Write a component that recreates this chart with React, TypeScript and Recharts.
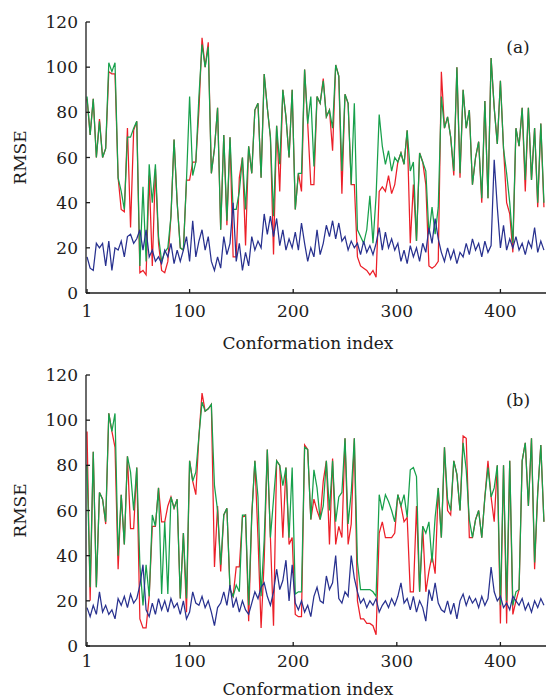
import { LineChart, Line, XAxis, YAxis, Label } from "recharts";

// conformations sampled every 3rd index
const STEP = 3;

// panel (a)
const topGreen = [
  87, 70, 86, 60, 76, 60, 64, 102, 98, 102,
  51, 45, 37, 69, 69, 73, 76, 12, 47, 14,
  57, 40, 57, 25, 14, 18, 20, 34, 68, 40,
  20, 19, 50, 87, 52, 58, 87, 110, 100, 109,
  53, 64, 82, 28, 70, 32, 69, 37, 37, 45,
  60, 37, 65, 53, 81, 84, 51, 97, 82, 69,
  34, 74, 57, 90, 78, 60, 90, 37, 53, 53,
  99, 75, 87, 56, 87, 84, 94, 78, 81, 73,
  101, 96, 54, 88, 84, 48, 84, 28, 25, 22,
  28, 43, 22, 43, 79, 65, 57, 63, 54, 60,
  58, 62, 57, 72, 54, 58, 23, 62, 58, 54,
  26, 38, 26, 38, 87, 73, 78, 69, 54, 100,
  53, 90, 73, 81, 48, 60, 67, 42, 85, 42,
  104, 82, 66, 94, 64, 53, 40, 22, 73, 65,
  82, 50, 82, 50, 73, 40, 75, 40,
];
const topRed = [
  86, 70, 86, 60, 77, 60, 64, 98, 97, 97,
  51, 37, 36, 73, 29, 72, 76, 9, 10, 8,
  52, 12, 55, 22, 10, 9, 14, 34, 68, 40,
  20, 19, 50, 50, 58, 58, 81, 113, 100, 111,
  53, 64, 82, 28, 70, 30, 69, 16, 16, 51,
  60, 21, 65, 53, 81, 84, 51, 97, 82, 69,
  17, 74, 45, 90, 78, 60, 90, 37, 53, 45,
  99, 75, 48, 48, 87, 84, 95, 78, 81, 63,
  101, 96, 44, 88, 84, 48, 48, 16, 12, 11,
  10, 8, 10, 7, 45, 47, 45, 52, 44, 48,
  58, 62, 57, 72, 22, 48, 23, 62, 58, 48,
  12, 11, 12, 14, 98, 73, 78, 69, 52, 100,
  51, 90, 73, 81, 48, 60, 67, 40, 85, 42,
  104, 82, 66, 94, 64, 40, 35, 18, 73, 65,
  82, 45, 82, 50, 73, 38, 75, 38,
];
const topBlue = [
  16, 11, 10, 22, 20, 22, 12, 23, 10, 20,
  19, 23, 16, 25, 26, 22, 24, 28, 19, 28,
  16, 19, 14, 16, 13, 19, 16, 22, 13, 19,
  14, 19, 25, 14, 32, 16, 23, 28, 19, 25,
  14, 10, 16, 11, 25, 17, 22, 40, 14, 22,
  10, 18, 12, 25, 19, 23, 20, 35, 26, 34,
  25, 33, 21, 28, 19, 24, 20, 27, 19, 31,
  22, 14, 20, 16, 28, 17, 22, 30, 25, 32,
  24, 31, 23, 25, 19, 23, 20, 22, 17, 23,
  18, 21, 17, 22, 29, 19, 27, 20, 24, 19,
  22, 14, 19, 13, 21, 16, 20, 14, 22, 18,
  29, 22, 33, 24, 18, 14, 20, 15, 19, 13,
  18, 16, 22, 17, 24, 19, 22, 16, 23, 18,
  21, 59, 38, 20, 30, 19, 24, 20, 25, 19,
  22, 17, 23, 20, 29, 18, 23, 19,
];

// panel (b)
const bottomGreen = [
  80, 26, 86, 26, 68, 65, 55, 103, 95, 103,
  40, 67, 45, 84, 77, 60, 79, 36, 18, 36,
  22, 58, 53, 70, 23, 55, 23, 66, 61, 65,
  21, 50, 21, 82, 73, 77, 93, 108, 104, 105,
  107, 71, 60, 36, 58, 61, 25, 22, 27, 24,
  58, 58, 18, 58, 82, 66, 22, 47, 87, 48,
  65, 82, 80, 71, 79, 48, 79, 23, 24, 24,
  88, 87, 56, 78, 70, 56, 62, 82, 60, 82,
  55, 66, 68, 92, 54, 68, 92, 37, 25, 25,
  25, 25, 24, 22, 67, 60, 67, 64, 60, 55,
  67, 62, 67, 57, 78, 79, 75, 24, 53, 50,
  55, 37, 57, 70, 48, 88, 65, 60, 82, 76,
  60, 90, 78, 56, 48, 56, 60, 48, 66, 79,
  66, 70, 80, 18, 80, 20, 82, 18, 24, 25,
  82, 90, 62, 92, 37, 68, 89, 55,
];
const bottomRed = [
  95, 20, 86, 26, 68, 65, 54, 103, 95, 88,
  34, 67, 45, 84, 52, 52, 79, 12, 8, 8,
  22, 53, 53, 70, 55, 55, 62, 66, 61, 65,
  21, 50, 15, 82, 73, 67, 93, 112, 104, 105,
  107, 35, 62, 33, 58, 61, 25, 22, 35, 35,
  57, 58, 11, 58, 82, 48, 8, 38, 87, 48,
  9, 82, 80, 48, 79, 45, 48, 14, 13, 13,
  89, 87, 56, 65, 60, 56, 73, 82, 45, 83,
  45, 53, 48, 92, 45, 54, 92, 20, 12, 12,
  10, 10, 9, 5, 50, 55, 48, 48, 48, 50,
  67, 62, 55, 57, 24, 24, 62, 24, 53, 24,
  33, 40, 32, 70, 48, 88, 60, 58, 82, 76,
  60, 93, 92, 48, 48, 56, 60, 48, 66, 82,
  66, 55, 80, 10, 80, 10, 82, 14, 20, 25,
  82, 90, 62, 92, 34, 68, 89, 55,
];
const bottomBlue = [
  17, 13, 18, 14, 24, 15, 18, 14, 16, 12,
  21, 18, 22, 17, 23, 19, 21, 27, 36, 16,
  13, 19, 14, 21, 16, 20, 15, 21, 17, 19,
  14, 20, 12, 15, 24, 19, 18, 22, 17, 20,
  15, 9, 17, 19, 24, 18, 27, 17, 21, 15,
  20, 16, 14, 19, 24, 21, 26, 28, 22, 18,
  24, 34, 25, 29, 38, 20, 36, 19, 16, 20,
  15, 18, 13, 22, 26, 20, 19, 31, 25, 28,
  40, 21, 19, 24, 22, 40, 30, 24, 19, 21,
  17, 20, 18, 21, 15, 18, 20, 17, 21, 18,
  22, 28, 19, 21, 16, 22, 15, 20, 17, 11,
  25, 20, 28, 19, 16, 15, 20, 14, 19, 12,
  20, 23, 18, 22, 19, 21, 17, 22, 18, 21,
  35, 24, 20, 22, 17, 19, 16, 22, 20, 18,
  21, 16, 19, 15, 20, 17, 21, 18,
];

const xTicks = [1, 100, 200, 300, 400];
const yTicks = [0, 20, 40, 60, 80, 100, 120];

const conformation = topGreen.map((_, i) => 1 + i * STEP);
const rows = conformation.map((c, i) => ({
  c,
  ga: topGreen[i],
  ra: topRed[i],
  ba: topBlue[i],
  gb: bottomGreen[i],
  rb: bottomRed[i],
  bb: bottomBlue[i],
}));

const FONT = "'DejaVu Serif', serif";
const INK = "#1c1c1c";
const RED = "#ec1f28";
const GREEN = "#17a04b";
const BLUE = "#28318f";
const W = 546;
const PLOT_H = 271;

interface PanelProps {
  tag: string;
  keys: [string, string, string];
  height: number;
  top: number;
  tickGap: number;
  titleY: number;
}

function Panel({ tag, keys, height, top, tickGap, titleY }: PanelProps) {
  const tickStyle = { fill: INK, fontSize: 17, fontFamily: FONT };
  const midY = top + PLOT_H / 2;
  return (
    <LineChart width={W} height={height} data={rows} margin={{ top, right: 0, left: 0, bottom: 0 }}>
      <XAxis
        dataKey="c"
        type="number"
        domain={[0, 444]}
        ticks={xTicks}
        interval={0}
        height={height - top - PLOT_H}
        tickSize={-4}
        tickMargin={tickGap}
        stroke={INK}
        strokeWidth={1.3}
        tick={tickStyle}
        allowDataOverflow
      >
        <Label
          content={() => (
            <text x={308} y={titleY} textAnchor="middle" fill={INK} fontSize={17} fontFamily={FONT}>
              Conformation index
            </text>
          )}
        />
      </XAxis>
      <XAxis
        xAxisId="top"
        orientation="top"
        dataKey="c"
        type="number"
        domain={[0, 444]}
        ticks={xTicks}
        interval={0}
        height={0}
        tickSize={-4}
        tickFormatter={() => ""}
        stroke={INK}
        strokeWidth={1.3}
        allowDataOverflow
      />
      <YAxis
        width={86}
        domain={[0, 120]}
        ticks={yTicks}
        interval={0}
        tickSize={-4}
        tickMargin={12}
        stroke={INK}
        strokeWidth={1.3}
        tick={tickStyle}
      >
        <Label
          content={() => (
            <g fill={INK} fontSize={17} fontFamily={FONT}>
              <text
                x={20}
                y={midY}
                transform={`rotate(-90 20 ${midY})`}
                textAnchor="middle"
                dominantBaseline="central"
              >
                RMSE
              </text>
              <text x={518} y={top + 31} textAnchor="middle">
                {tag}
              </text>
            </g>
          )}
        />
      </YAxis>
      <Line type="linear" dataKey={keys[0]} stroke={RED} strokeWidth={1.25} dot={false} isAnimationActive={false} />
      <Line type="linear" dataKey={keys[1]} stroke={GREEN} strokeWidth={1.25} dot={false} isAnimationActive={false} />
      <Line type="linear" dataKey={keys[2]} stroke={BLUE} strokeWidth={1.25} dot={false} isAnimationActive={false} />
    </LineChart>
  );
}

export default function App() {
  return (
    <div style={{ position: "absolute", left: 0, top: 0, width: W, height: 700, background: "#fff" }}>
      <Panel tag="(a)" keys={["ra", "ga", "ba"]} height={365} top={22} tickGap={16} titleY={349} />
      <Panel tag="(b)" keys={["rb", "gb", "bb"]} height={335} top={10} tickGap={13} titleY={330} />
    </div>
  );
}
